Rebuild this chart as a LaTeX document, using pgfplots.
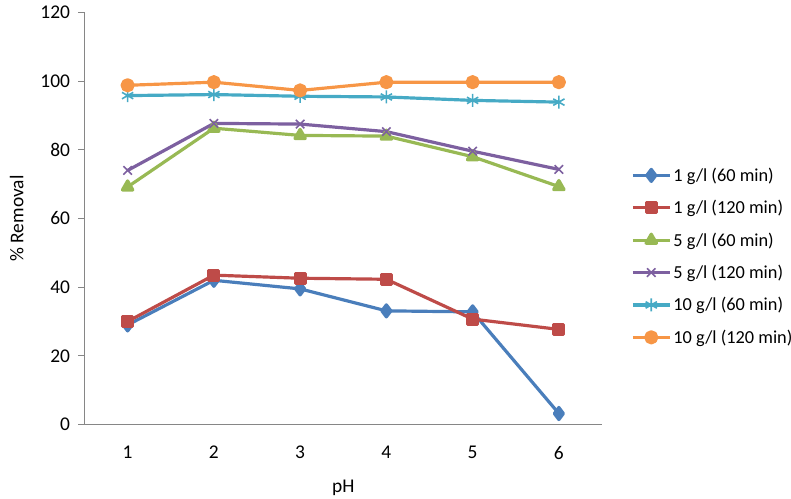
\documentclass[border=0pt]{standalone}
\usepackage{pgfplots}
\pgfplotsset{compat=1.18}
\usepackage{fontspec}
\setmainfont{Carlito}
\usetikzlibrary{plotmarks}
\definecolor{cblue}{HTML}{4A7EBB}
\definecolor{cred}{HTML}{BE4B48}
\definecolor{cgreen}{HTML}{98B954}
\definecolor{cpurple}{HTML}{7D60A0}
\definecolor{ccyan}{HTML}{46AAC5}
\definecolor{corange}{HTML}{F79646}
\definecolor{axgray}{HTML}{868686}
\begin{document}
\begin{tikzpicture}
\path[use as bounding box] (0,0) rectangle (791bp,499bp);
\begin{axis}[
  at={(84.5bp,74.5bp)}, anchor=south west,
  scale only axis, width=517.5bp, height=412bp,
  xmin=0.5, xmax=6.5, ymin=0, ymax=120,
  axis x line*=bottom, axis y line*=left,
  axis line style={axgray, line width=0.9pt, -},
  xtick={1,2,3,4,5,6}, ytick={0,20,...,120},
  xtick style={draw=none},
  ytick style={axgray, line width=0.9pt},
  tick align=outside, major tick length=6bp,
  tick label style={font=\fontsize{19.5}{22}\selectfont},
  /pgf/number format/assume math mode=true,
  xticklabel style={yshift=-12bp},
  yticklabel style={xshift=-5bp},
  xlabel={pH}, ylabel={\% Removal},
  label style={font=\fontsize{19.5}{22}\selectfont},
  xlabel style={at={(axis description cs:0.5,0)}, anchor=center, yshift=-63bp},
  ylabel style={at={(axis description cs:-0.131,0.5)}, anchor=center},
  legend style={at={(axis description cs:1.056,0.628)}, anchor=north west, draw=none,
    font=\fontsize{18.4}{20}\selectfont, row sep=13.5bp, inner sep=0pt,
    /tikz/every even column/.append style={column sep=3bp}},
  legend cell align=left,
  legend image code/.code={
    \draw[#1, mark=none] (0bp,0bp) -- (37bp,0bp);
    \draw[#1, only marks] plot coordinates {(18.5bp,0bp)};
  },
  every axis plot/.append style={line width=3.2pt, line join=round},
  clip=false,
]
\addplot[cblue, mark=diamond*, mark size=6bp, mark options={solid}] coordinates {(1,29) (2,42) (3,39.5) (4,33.1) (5,32.8) (6,3.2)};
\addlegendentry{1 g/l (60 min)}
\addplot[cred, mark=square*, mark size=5bp] coordinates {(1,30) (2,43.5) (3,42.6) (4,42.3) (5,30.7) (6,27.7)};
\addlegendentry{1 g/l (120 min)}
\addplot[cgreen, mark=triangle*, mark size=6bp] coordinates {(1,69.2) (2,86.3) (3,84.2) (4,84) (5,78) (6,69.3)};
\addlegendentry{5 g/l (60 min)}
\addplot[cpurple, mark=x, mark size=6bp, mark options={line width=1.6pt}] coordinates {(1,74) (2,87.7) (3,87.5) (4,85.3) (5,79.6) (6,74.3)};
\addlegendentry{5 g/l (120 min)}
\addplot[ccyan, mark=asterisk, mark size=6.5bp, mark options={line width=1.6pt}] coordinates {(1,95.8) (2,96.1) (3,95.6) (4,95.4) (5,94.4) (6,93.9)};
\addlegendentry{10 g/l (60 min)}
\addplot[corange, mark=*, mark size=5.5bp] coordinates {(1,98.8) (2,99.7) (3,97.3) (4,99.7) (5,99.7) (6,99.7)};
\addlegendentry{10 g/l (120 min)}
\end{axis}
\end{tikzpicture}
\end{document}
